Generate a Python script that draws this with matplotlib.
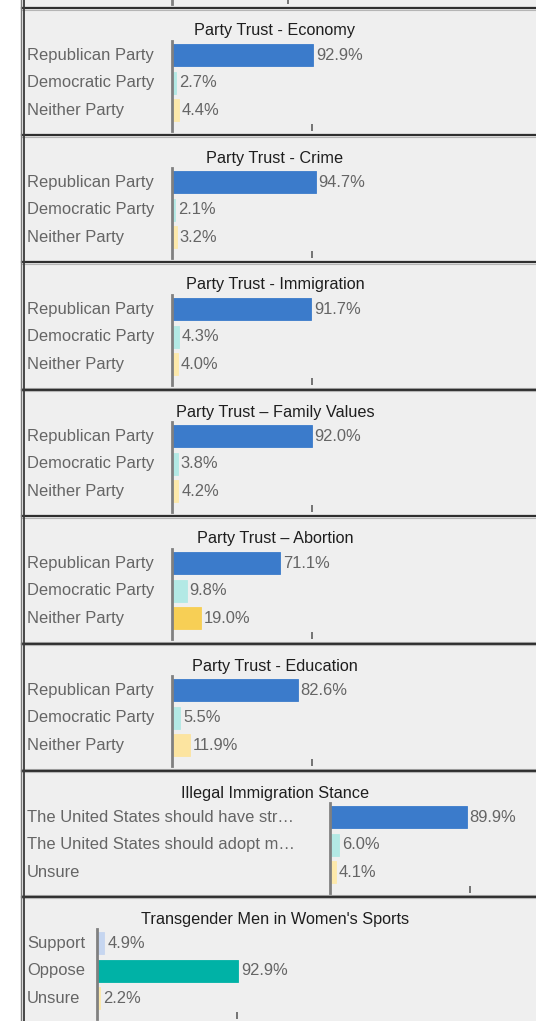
import matplotlib
matplotlib.use("Agg")
import matplotlib.pyplot as plt
from matplotlib.lines import Line2D
from matplotlib.patches import Rectangle
import matplotlib.transforms as mtrans

plt.rcParams['font.family'] = ['Liberation Sans', 'DejaVu Sans']

# ---------------- data ----------------
party_cats = ["Republican Party", "Democratic Party", "Neither Party"]
economy_vals = [92.9, 2.7, 4.4]
crime_vals = [94.7, 2.1, 3.2]
immigration_vals = [91.7, 4.3, 4.0]
family_vals = [92.0, 3.8, 4.2]
abortion_vals = [71.1, 9.8, 19.0]
education_vals = [82.6, 5.5, 11.9]
illegal_cats = ["The United States should have str\u2026",
                "The United States should adopt m\u2026",
                "Unsure"]
illegal_vals = [89.9, 6.0, 4.1]
trans_cats = ["Support", "Oppose", "Unsure"]
trans_vals = [4.9, 92.9, 2.2]

titles = ["Party Trust - Economy", "Party Trust - Crime", "Party Trust - Immigration",
          "Party Trust \u2013 Family Values", "Party Trust \u2013 Abortion",
          "Party Trust - Education", "Illegal Immigration Stance",
          "Transgender Men in Women's Sports"]

BLUE, CYAN, PALE, GOLD, TEAL, LBLUE = "#3b7bcb", "#b3e9e5", "#fde9ab", "#f7cf55", "#00b2a6", "#c6d6f0"

panels = [
    (titles[0], party_cats, economy_vals, [BLUE, CYAN, PALE]),
    (titles[1], party_cats, crime_vals, [BLUE, CYAN, PALE]),
    (titles[2], party_cats, immigration_vals, [BLUE, CYAN, PALE]),
    (titles[3], party_cats, family_vals, [BLUE, CYAN, PALE]),
    (titles[4], party_cats, abortion_vals, [BLUE, CYAN, GOLD]),
    (titles[5], party_cats, education_vals, [BLUE, CYAN, "#fce4a0"]),
    (titles[6], illegal_cats, illegal_vals, [BLUE, CYAN, PALE]),
    (titles[7], trans_cats, trans_vals, [LBLUE, TEAL, PALE]),
]

# ---------------- layout ----------------
W, H = 536, 1021
fig = plt.figure(figsize=(W / 100, H / 100), dpi=100)
fig.patch.set_facecolor("white")

def fx(px):
    return px / W

def fy(py):
    return 1 - py / H

# panel background
fig.add_artist(Rectangle((fx(22), 0), 1 - fx(22), 1, transform=fig.transFigure,
                         facecolor="#efefef", edgecolor="none", zorder=0))

panel_tops = [8, 135, 262, 389, 516, 643, 770, 896]
axis_left = [172, 172, 172, 172, 172, 172, 330, 97]
AX_W = 152          # pixels for 0..100 %
LABEL_COLOR = "#656565"
FS = 11.9
TFS = 11.7

def make_axes(left, top, height):
    ax = fig.add_axes([fx(left), fy(top + height), fx(AX_W), height / H])
    ax.set_facecolor("none")
    for s in ["top", "right", "bottom"]:
        ax.spines[s].set_visible(False)
    ax.spines["left"].set_color("#808080")
    ax.spines["left"].set_linewidth(2.0)
    ax.set_xlim(0, 100)
    ax.set_yticks([])
    ax.tick_params(axis="x", direction="in", length=5, width=1.3, color="#6a6a6a",
                   labelbottom=False)
    return ax

# partial panel visible at the very top
ax0 = make_axes(172, -86, 90)
ax0.set_xticks([76])
ax0.set_ylim(1, 0)

for (title, cats, vals, cols), top, left in zip(panels, panel_tops, axis_left):
    # separator lines
    for dy, c, lw in [(-1, "#a8a8a8", 0.8), (0.5, "#2f2f2f", 1.6), (2, "#b5b5b5", 0.8)]:
        fig.add_artist(Line2D([fx(22), 1], [fy(top + dy)] * 2, transform=fig.transFigure,
                              color=c, lw=lw, zorder=5))
    ax = make_axes(left, top + 33, 90)
    ax.set_ylim(2.76, -0.51)
    ax.set_xticks([92])
    ypos = list(range(len(cats)))
    ax.barh(ypos, vals, height=0.8, color=cols, edgecolor=[c for c in cols],
            linewidth=0.6, zorder=2)
    for y, v in zip(ypos, vals):
        ax.annotate(f"{v:.1f}%", xy=(v, y), xytext=(2, 0), textcoords="offset points",
                    ha="left", va="center", fontsize=FS, color=LABEL_COLOR,
                    annotation_clip=False)
    tr = mtrans.blended_transform_factory(fig.transFigure, ax.transData)
    for y, c in zip(ypos, cats):
        ax.text(fx(27), y, c, transform=tr, ha="left", va="center",
                fontsize=FS, color=LABEL_COLOR, clip_on=False)
    fig.text(fx(275), fy(top + 23), title, ha="center", va="center",
             fontsize=TFS, color="#1e1e1e")

# left double border
fig.add_artist(Line2D([fx(20.5)] * 2, [0, 1], transform=fig.transFigure,
                      color="#7a7a7a", lw=1.0, zorder=6))
fig.add_artist(Line2D([fx(23.5)] * 2, [0, 1], transform=fig.transFigure,
                      color="#3a3a3a", lw=1.3, zorder=6))

fig.savefig("out.png", dpi=100)
